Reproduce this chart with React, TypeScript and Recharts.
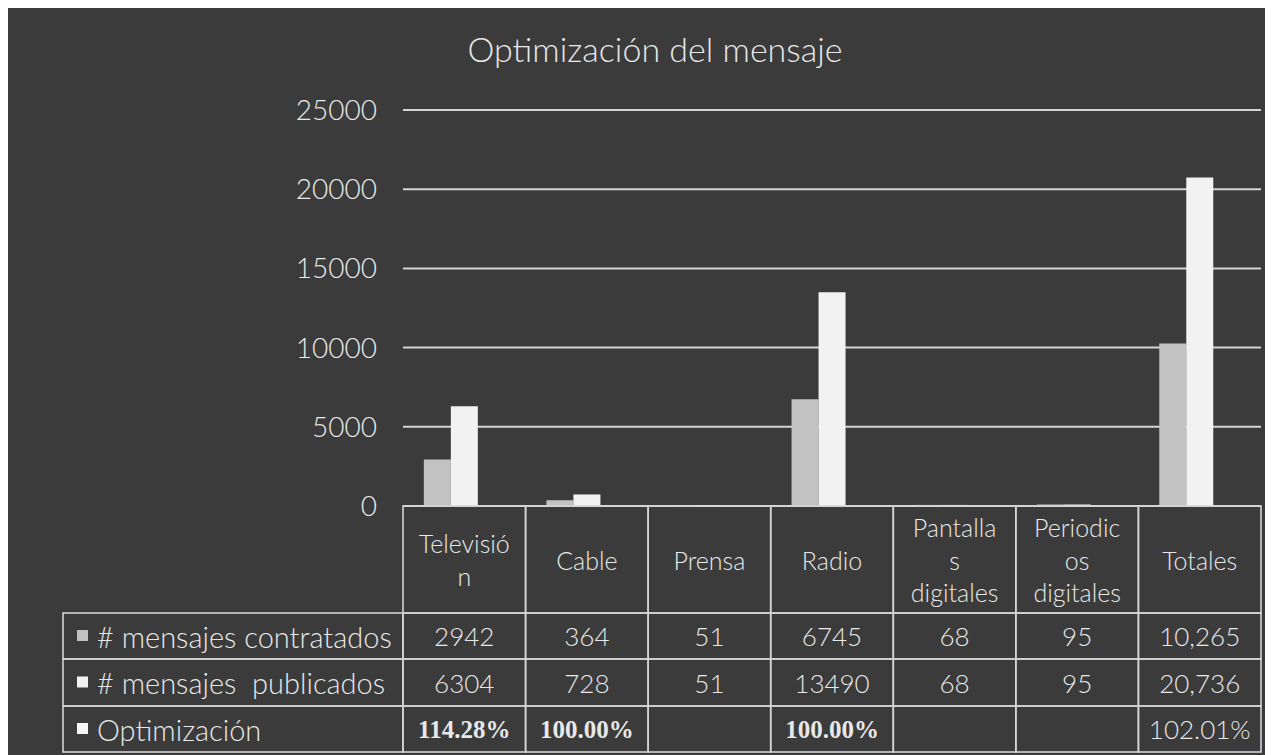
import { BarChart, Bar, XAxis, YAxis, CartesianGrid } from 'recharts';

const categories = ['Televisión', 'Cable', 'Prensa', 'Radio', 'Pantallas digitales', 'Periodicos digitales', 'Totales'];
// header text as wrapped in the original table cells
const headerLines = [['Televisió', 'n'], ['Cable'], ['Prensa'], ['Radio'], ['Pantalla', 's', 'digitales'], ['Periodic', 'os', 'digitales'], ['Totales']];
const contratados = [2942, 364, 51, 6745, 68, 95, 10265];
const publicados = [6304, 728, 51, 13490, 68, 95, 20736];
const optimizacion = [1.1428, 1.0, null, 1.0, null, null, 1.0201];
const yTicks = [0, 5000, 10000, 15000, 20000, 25000];

const seriesNames = ['# mensajes contratados', '# mensajes  publicados', 'Optimización'];
const seriesColors = ['#c2c2c2', '#f2f2f2', '#f7f7f7'];

const data = categories.map((c, i) => ({
  name: c,
  contratados: contratados[i],
  publicados: publicados[i],
  optimizacion: optimizacion[i],
}));

const W = 1268;
const H = 747;
const LEFT = 398;
const RIGHT = 12;
const TEXT = '#e8e8e8';
const LINE = '#d4d4d4';
const FONT = 'Lato, "Open Sans", sans-serif';

const HEADER_H = 107;
const ROW_H = [46, 47, 46];
const LABEL_W = 340;

const fmt = (v: number, i: number) => (categories[i] === 'Totales' ? v.toLocaleString('en-US') : String(v));

const TableTick = (props: any) => {
  const { x, y, payload } = props;
  const i = payload.index;
  const colW = (W - LEFT - RIGHT) / categories.length;
  const x0 = x - colW / 2;
  const lines = headerLines[i];
  const rowVals = [
    fmt(contratados[i], i),
    fmt(publicados[i], i),
    optimizacion[i] == null ? '' : (optimizacion[i]! * 100).toFixed(2) + '%',
  ];
  const rowTops = [y + HEADER_H, y + HEADER_H + ROW_H[0], y + HEADER_H + ROW_H[0] + ROW_H[1]];
  const serifPct = categories[i] !== 'Totales';
  return (
    <g>
      <rect x={x0} y={y} width={colW} height={HEADER_H} fill="none" stroke={LINE} strokeWidth={1.6} />
      {lines.map((l, k) => (
        <text key={k} x={x} y={y + HEADER_H / 2 + (k - (lines.length - 1) / 2) * 32.5} textAnchor="middle"
          dominantBaseline="central" fill={TEXT} fontSize={25} fontWeight={300}>{l}</text>
      ))}
      {rowVals.map((v, r) => {
        const serif = r === 2 && serifPct;
        return (
          <g key={r}>
            <rect x={x0} y={rowTops[r]} width={colW} height={ROW_H[r]} fill="none" stroke={LINE} strokeWidth={1.6} />
            <text x={x} y={rowTops[r] + ROW_H[r] / 2} textAnchor="middle" dominantBaseline="central" fill={TEXT}
              fontSize={serif ? 25 : 26} fontWeight={serif ? 700 : 300}
              fontFamily={serif ? '"Liberation Serif", "Times New Roman", serif' : FONT}>{v}</text>
          </g>
        );
      })}
      {i === 0 && seriesNames.map((s, r) => (
        <g key={'l' + r}>
          <rect x={x0 - LABEL_W} y={rowTops[r]} width={LABEL_W} height={ROW_H[r]} fill="none" stroke={LINE} strokeWidth={1.6} />
          <rect x={x0 - LABEL_W + 14} y={rowTops[r] + ROW_H[r] / 2 - 6} width={11} height={11} fill={seriesColors[r]} />
          <text x={x0 - LABEL_W + 34} y={rowTops[r] + ROW_H[r] / 2} dominantBaseline="central" fill={TEXT}
            fontSize={29} fontWeight={300} style={{ whiteSpace: 'pre' }}>{s}</text>
        </g>
      ))}
    </g>
  );
};

export default function App() {
  return (
    <div style={{ position: 'relative', width: W, height: H, marginLeft: -3, background: '#3b3b3b', fontFamily: FONT }}>
      <div style={{ position: 'absolute', top: 20, left: 0, width: 1300, textAlign: 'center', color: TEXT, fontSize: 34, fontWeight: 300, lineHeight: '42px' }}>
        Optimización del mensaje
      </div>
      <BarChart width={W} height={H} data={data} margin={{ top: 102, right: RIGHT, left: 0, bottom: 0 }}
        barCategoryGap="17%" barGap={0}>
        <CartesianGrid horizontal vertical={false} stroke={LINE} strokeWidth={2} />
        <XAxis dataKey="name" height={249} interval={0} tickLine={false} axisLine={false} tickSize={0} tickMargin={0}
          tick={<TableTick />} />
        <YAxis width={LEFT} domain={[0, 25000]} ticks={yTicks} tickLine={false} axisLine={false} tickSize={0}
          tickMargin={26} tick={{ fill: TEXT, fontSize: 28, fontWeight: 300 }} />
        <Bar dataKey="contratados" fill={seriesColors[0]} isAnimationActive={false} />
        <Bar dataKey="publicados" fill={seriesColors[1]} isAnimationActive={false} />
        <Bar dataKey="optimizacion" fill={seriesColors[2]} isAnimationActive={false} />
      </BarChart>
    </div>
  );
}
